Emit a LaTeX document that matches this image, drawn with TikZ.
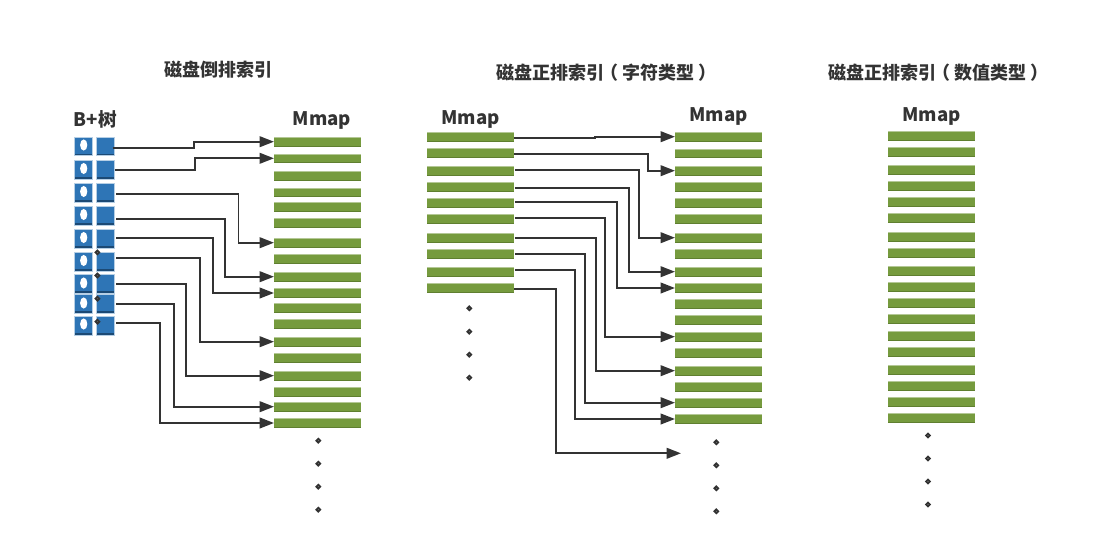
\documentclass[tikz,border=0pt]{standalone}
\usepackage{fontspec}
\setmainfont{Noto Sans CJK SC}
\usetikzlibrary{arrows.meta,shapes.geometric}
\definecolor{barcol}{HTML}{769B3E}
\definecolor{barlight}{HTML}{B4C896}
\definecolor{bardark}{HTML}{5F7F30}
\definecolor{keycol}{HTML}{2E75B6}
\definecolor{keydark}{HTML}{1C4A75}
\definecolor{inkcol}{HTML}{333333}
\begin{document}
\begin{tikzpicture}[
            % 1 unita' = 1 pixel del riferimento
            x=0.75pt, y=-0.75pt,
            % Stili dei nodi e delle linee
            bar/.style={rectangle, inner sep=0pt, outer sep=0pt, minimum width=65.25pt, minimum height=7.2pt, fill=barcol,
                path picture={
                    \fill[barlight] (path picture bounding box.north west) rectangle ([yshift=-0.8pt]path picture bounding box.north east);
                    \fill[bardark] ([yshift=0.6pt]path picture bounding box.south west) rectangle (path picture bounding box.south east);
                }},
            keybox/.style={rectangle, inner sep=0pt, outer sep=0pt, minimum width=13.5pt, minimum height=14pt, fill=keycol, draw=keycol!35, line width=0.4pt,
                path picture={
                    \fill[keydark] ([yshift=1.5pt]path picture bounding box.south west) rectangle (path picture bounding box.south east);
                }},
            hole/.style={ellipse, inner sep=0pt, outer sep=0pt, minimum width=5.4pt, minimum height=8.4pt, fill=white},
            pin/.style={circle, inner sep=0pt, outer sep=0pt, minimum size=2.8pt, draw=inkcol, line width=1.4pt, fill=white},
            title/.style={font=\fontsize{13.5pt}{15pt}\selectfont\bfseries, text=inkcol, inner sep=0pt},
            head/.style={font=\fontsize{14pt}{16pt}\selectfont\bfseries, text=inkcol, inner sep=0pt},
            link/.style={draw=inkcol, line width=1.4pt, -{Triangle[length=10.8pt, width=8pt]}}
        ]

        \useasboundingbox (0,0) rectangle (1118,546);

        % ==============================
        % 1. TITOLI
        % ==============================
        \node[title] (title1) at (218,70) {磁盘倒排索引};
        \node[title] (title2) at (606.5,73) {磁盘正排索引\kern-3pt（\kern3pt 字符类型\kern3pt）};
        \node[title] (title3) at (938.5,73) {磁盘正排索引\kern-3pt（\kern3pt 数值类型\kern3pt）};
        \node[head] (treehead) at (95.5,119.5) {B+树};
        \node[head] (mmapa) at (322,120.5) {Mmap};
        \node[head] (mmapb) at (470.5,119) {Mmap};
        \node[head] (mmapc) at (718.5,116) {Mmap};
        \node[head] (mmapd) at (931.5,116) {Mmap};

        % ==============================
        % 2. ALBERO B+
        % ==============================
        \node[keybox] (k1) at (83.7,146.3) {}; \node[keybox] (t1) at (105.7,146.3) {};
        \node[keybox] (k2) at (83.7,169.5) {}; \node[keybox] (t2) at (105.7,169.5) {};
        \node[keybox] (k3) at (83.7,192.5) {}; \node[keybox] (t3) at (105.7,192.5) {};
        \node[keybox] (k4) at (83.7,215.5) {}; \node[keybox] (t4) at (105.7,215.5) {};
        \node[keybox] (k5) at (83.7,238.5) {}; \node[keybox] (t5) at (105.7,238.5) {};
        \node[keybox] (k6) at (83.7,261.5) {}; \node[keybox] (t6) at (105.7,261.5) {};
        \node[keybox] (k7) at (83.7,284) {}; \node[keybox] (t7) at (105.7,284) {};
        \node[keybox] (k8) at (83.7,304) {}; \node[keybox] (t8) at (105.7,304) {};
        \node[keybox] (k9) at (83.7,325.5) {}; \node[keybox] (t9) at (105.7,325.5) {};

        % Fori bianchi
        \node[hole] (h1) at (83.7,145) {}; \node[hole] (h2) at (83.7,168.5) {};
        \node[hole] (h3) at (83.7,191.5) {}; \node[hole] (h4) at (83.7,214.5) {};
        \node[hole] (h5) at (83.7,237.5) {}; \node[hole] (h6) at (83.7,260.5) {};
        \node[hole] (h7) at (83.7,283) {}; \node[hole] (h8) at (83.7,303) {};
        \node[hole] (h9) at (83.7,324) {};

        % Puntini sugli angoli
        \node[pin] (p6) at (97.4,252.4) {}; \node[pin] (p7) at (97.4,275.5) {};
        \node[pin] (p8) at (97.4,298.7) {}; \node[pin] (p9) at (97.4,321.7) {};

        % ==============================
        % 3. MMAP A SINISTRA
        % ==============================
        \node[bar] (a1) at (317.5,141.7) {}; \node[bar] (a2) at (317.5,158.3) {};
        \node[bar] (a3) at (317.5,176) {}; \node[bar] (a4) at (317.5,192.3) {};
        \node[bar] (a5) at (317.5,206.7) {}; \node[bar] (a6) at (317.5,223) {};
        \node[bar] (a7) at (317.5,242.7) {}; \node[bar] (a8) at (317.5,259) {};
        \node[bar] (a9) at (317.5,276.7) {}; \node[bar] (a10) at (317.5,293) {};
        \node[bar] (a11) at (317.5,308) {}; \node[bar] (a12) at (317.5,324) {};
        \node[bar] (a13) at (317.5,341.7) {}; \node[bar] (a14) at (317.5,358) {};
        \node[bar] (a15) at (317.5,375.7) {}; \node[bar] (a16) at (317.5,392) {};
        \node[bar] (a17) at (317.5,406.7) {}; \node[bar] (a18) at (317.5,423) {};

        % Puntini
        \node[pin] (ad1) at (318.3,440.7) {}; \node[pin] (ad2) at (318.3,463.7) {};
        \node[pin] (ad3) at (318.3,486.7) {}; \node[pin] (ad4) at (318.3,509.7) {};

        % Collegamenti
        \draw[link] ([xshift=-1.5pt,yshift=-1.5pt]t1.east) -| (194,0 |- a1.west) -- (a1.west);
        \draw[link] ([yshift=-0.6pt]t2.east) -| (195,0 |- a2.west) -- (a2.west);
        \draw[link] ([xshift=1pt,yshift=-1.1pt]t3.east) -| (238.5,0 |- a7.west) -- (a7.west);
        \draw[link] ([xshift=1pt,yshift=-2.4pt]t4.east) -| (225,0 |- a9.west) -- (a9.west);
        \draw[link] ([xshift=1pt,yshift=0.6pt]t5.east) -| (212.7,0 |- a10.west) -- (a10.west);
        \draw[link] ([xshift=1pt,yshift=2.8pt]t6.east) -| (200.3,0 |- a13.west) -- (a13.west);
        \draw[link] ([xshift=1pt]t7.east) -| (185.7,0 |- a15.west) -- (a15.west);
        \draw[link] ([xshift=1pt]t8.east) -| (173.7,0 |- a17.west) -- (a17.west);
        \draw[link] ([xshift=1pt,yshift=2.1pt]t9.east) -| (160.3,0 |- a18.west) -- (a18.west);

        % ==============================
        % 4. MMAP AL CENTRO
        % ==============================
        \node[bar] (b1) at (470.5,136.7) {}; \node[bar] (b2) at (470.5,153) {};
        \node[bar] (b3) at (470.5,170.7) {}; \node[bar] (b4) at (470.5,187) {};
        \node[bar] (b5) at (470.5,202.7) {}; \node[bar] (b6) at (470.5,219) {};
        \node[bar] (b7) at (470.5,237.7) {}; \node[bar] (b8) at (470.5,254) {};
        \node[bar] (b9) at (470.5,271.7) {}; \node[bar] (b10) at (470.5,288) {};

        % Puntini
        \node[pin] (bd1) at (469.3,308.3) {}; \node[pin] (bd2) at (469.3,331.7) {};
        \node[pin] (bd3) at (469.3,354.7) {}; \node[pin] (bd4) at (469.3,377.7) {};

        \node[bar] (c1) at (718.5,136.7) {}; \node[bar] (c2) at (718.5,153.3) {};
        \node[bar] (c3) at (718.5,170.7) {}; \node[bar] (c4) at (718.5,187) {};
        \node[bar] (c5) at (718.5,203) {}; \node[bar] (c6) at (718.5,219) {};
        \node[bar] (c7) at (718.5,237.7) {}; \node[bar] (c8) at (718.5,254) {};
        \node[bar] (c9) at (718.5,271.7) {}; \node[bar] (c10) at (718.5,288) {};
        \node[bar] (c11) at (718.5,303.7) {}; \node[bar] (c12) at (718.5,320) {};
        \node[bar] (c13) at (718.5,336.7) {}; \node[bar] (c14) at (718.5,353) {};
        \node[bar] (c15) at (718.5,370.7) {}; \node[bar] (c16) at (718.5,387) {};
        \node[bar] (c17) at (718.5,402.7) {}; \node[bar] (c18) at (718.5,419) {};

        % Puntini
        \node[pin] (cd1) at (716.3,442.3) {}; \node[pin] (cd2) at (716.3,465.3) {};
        \node[pin] (cd3) at (716.3,488.3) {}; \node[pin] (cd4) at (716.3,511.3) {};

        % Estremo libero dell'ultima freccia
        \coordinate (cfree) at (681,453.3);

        % Collegamenti
        \draw[link] ([yshift=-0.7pt]b1.east) -| (595,0 |- c1.west) -- (c1.west);
        \draw[link] ([yshift=-0.5pt]b2.east) -| (648,0 |- c3.west) -- (c3.west);
        \draw[link] ([xshift=0.7pt,yshift=0.7pt]b3.east) -| (639.3,0 |- c7.west) -- (c7.west);
        \draw[link] ([xshift=0.7pt,yshift=-0.7pt]b4.east) -| (628.7,0 |- c9.west) -- (c9.west);
        \draw[link] ([xshift=0.7pt,yshift=0.7pt]b5.east) -| (617.3,0 |- c10.west) -- (c10.west);
        \draw[link] ([xshift=0.7pt,yshift=1pt]b6.east) -| (605.3,0 |- c13.west) -- (c13.west);
        \draw[link] ([xshift=0.7pt]b7.east) -| (595.7,0 |- c15.west) -- (c15.west);
        \draw[link] ([xshift=0.7pt]b8.east) -| (585.3,0 |- c17.west) -- (c17.west);
        \draw[link] ([xshift=0.7pt,yshift=1.2pt]b9.east) -| (574.7,0 |- c18.west) -- (c18.west);
        \draw[link] ([yshift=-0.5pt]b10.east) -| (556.3,0 |- cfree) -- (cfree);

        % ==============================
        % 5. MMAP A DESTRA
        % ==============================
        \node[bar] (d1) at (931.5,135.7) {}; \node[bar] (d2) at (931.5,152) {};
        \node[bar] (d3) at (931.5,169.7) {}; \node[bar] (d4) at (931.5,186) {};
        \node[bar] (d5) at (931.5,201.7) {}; \node[bar] (d6) at (931.5,218) {};
        \node[bar] (d7) at (931.5,237) {}; \node[bar] (d8) at (931.5,253) {};
        \node[bar] (d9) at (931.5,270.7) {}; \node[bar] (d10) at (931.5,287) {};
        \node[bar] (d11) at (931.5,302.7) {}; \node[bar] (d12) at (931.5,319) {};
        \node[bar] (d13) at (931.5,335.7) {}; \node[bar] (d14) at (931.5,352) {};
        \node[bar] (d15) at (931.5,369.7) {}; \node[bar] (d16) at (931.5,386) {};
        \node[bar] (d17) at (931.5,401.7) {}; \node[bar] (d18) at (931.5,418) {};

        % Puntini
        \node[pin] (dd1) at (928,435.5) {}; \node[pin] (dd2) at (928,458.5) {};
        \node[pin] (dd3) at (928,481.5) {}; \node[pin] (dd4) at (928,504.5) {};

        \end{tikzpicture}
\end{document}
